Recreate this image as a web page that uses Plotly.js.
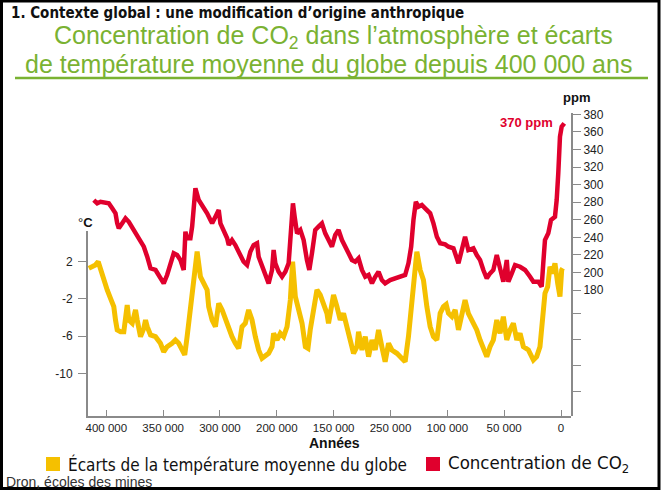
<!DOCTYPE html>
<html>
<head>
<meta charset="utf-8">
<script src="https://cdn.plot.ly/plotly-3.0.1.min.js"></script>
<style>html,body{margin:0;padding:0;background:#fff;}#chart{width:661px;height:490px;}</style>
</head>
<body>
<div id="chart"></div>
<script>
// ---- Data (years before present) ----
const co2Years = [411000,408000,405100,400700,397800,394800,391900,390400,389000,386000,383100,380200,375800,371400,367000,364000,361100,356700,353900,349500,346500,343600,340700,337700,334800,331900,330400,328900,326000,324500,321600,318700,315700,311300,308400,306900,304000,301100,299600,296700,293700,292300,289400,286500,283600,279200,276200,273300,270400,267400,266000,263000,260100,257200,254200,252800,251300,248400,245400,242500,239600,237200,235800,234300,232200,229300,226400,223500,221400,219100,216200,213300,210300,207400,204500,201500,198600,195700,192700,189800,186900,183900,181000,178100,175100,172200,169300,166300,163400,160500,157600,154700,150300,145900,141500,137100,134200,131800,129800,127700,125400,122400,119500,115100,112200,109200,106300,101900,99000,94600,90200,87300,84400,81500,77100,74100,71200,68300,65300,62400,59500,56500,53600,50700,47700,46300,43300,40400,36000,31600,27200,24300,19900,17000,15600,14100,11200,8800,5300,3800,2400,900,-600,-2900];
const co2Ppm = [282.4,278.7,280.5,279.4,278.7,273.0,267.3,255.9,250.2,255.9,261.6,257.7,248.3,238.9,229.3,217.9,204.7,202.8,197.1,187.6,197.1,210.4,221.8,219.8,214.2,202.8,246.4,238.9,238.9,252.1,295.8,282.4,276.8,267.3,259.7,255.9,263.4,271.1,255.9,248.3,238.9,231.2,236.9,231.2,223.6,212.2,208.5,223.6,231.2,233.2,217.9,206.5,195.1,187.6,202.8,225.5,210.4,200.8,195.1,200.8,210.4,248.3,278.7,263.4,244.5,248.3,236.9,214.2,202.8,221.8,248.3,252.1,255.9,244.5,236.9,229.3,242.6,248.3,236.9,229.3,223.6,214.2,212.2,216.1,202.8,195.1,197.1,187.6,195.1,200.8,191.4,187.6,191.4,193.3,195.1,197.1,210.4,229.3,259.7,280.5,274.8,276.8,273.0,267.3,255.9,240.7,233.2,232.0,229.3,227.5,210.4,223.6,240.7,225.5,227.5,219.8,214.2,202.8,193.3,199.0,202.8,219.8,206.5,189.4,214.2,189.4,199.0,208.5,206.5,202.8,195.1,189.4,189.4,183.8,210.4,236.9,244.5,259.7,263.4,282.4,312.8,354.5,365.9,369.8];

const tempYears = [415400,412400,409500,407100,405100,402200,399200,396300,393400,391900,390400,387500,384600,381600,380200,377200,374300,372800,369900,367000,365500,364000,361100,356700,352400,349500,346500,342100,339200,336300,333300,331000,328900,326000,323100,320100,317200,314300,311300,309900,306900,304000,301100,298100,295200,292300,289400,286500,283600,280600,277700,274800,271800,268900,266000,263000,260100,257200,254200,252800,249800,246900,244000,241000,238100,236100,233700,230800,227800,224900,222600,220600,217700,214700,211800,208900,205900,204500,201500,200100,197100,194200,191300,188300,185400,182500,179500,178100,175100,172200,169300,166300,163400,160500,157600,154700,151700,148800,144400,140000,137100,134200,131200,128900,126800,123900,121000,118000,115100,112200,109200,106300,103400,101000,99000,96000,93100,90200,87300,84400,81500,78500,74100,71200,68300,65300,62400,59500,56500,53600,50700,47700,44800,41900,38900,36000,33100,28700,24300,21400,18500,16400,14100,11700,9700,7600,5300,2900,900,-600,-1500];
const tempC = [1.29,1.46,1.65,2.0,1.11,0.03,-1.04,-1.94,-2.84,-4.27,-5.34,-5.53,-5.53,-2.66,-4.27,-4.62,-3.19,-4.27,-6.06,-5.16,-4.27,-4.99,-5.88,-6.06,-6.77,-7.68,-7.14,-6.77,-6.42,-6.77,-7.68,-8.03,-6.06,-3.19,0.03,3.08,0.39,-0.32,-1.04,-2.84,-4.27,-4.99,-2.47,-3.19,-4.27,-4.99,-6.06,-6.77,-7.31,-4.99,-4.62,-3.19,-4.27,-6.06,-7.49,-8.39,-8.03,-7.85,-7.14,-5.70,-6.42,-5.70,-6.06,-4.99,-2.12,2.0,-1.76,-3.19,-4.62,-7.14,-7.31,-5.34,-2.84,-1.04,-1.58,-2.47,-3.55,-4.62,-2.47,-1.58,-2.84,-4.27,-3.55,-4.99,-6.77,-7.85,-7.14,-5.53,-7.49,-6.06,-8.21,-6.42,-7.49,-5.34,-7.14,-8.75,-6.77,-7.49,-7.85,-8.39,-8.75,-6.06,-1.76,1.11,3.08,1.11,0.03,-2.84,-4.99,-6.06,-6.42,-3.55,-2.84,-2.6,-3.55,-3.91,-3.19,-5.34,-3.55,-2.12,-3.55,-4.27,-5.34,-6.42,-7.49,-8.21,-7.14,-6.42,-4.27,-5.70,-3.91,-6.42,-5.34,-4.62,-6.42,-5.70,-7.14,-7.49,-8.57,-8.21,-7.14,-4.27,-1.40,-0.69,1.46,0.75,1.83,-0.32,-1.76,1.11,1.29];

const xTickVals = [400000,350000,300000,250000,200000,150000,100000,50000,0];
const xTickText = ['400 000','350 000','300 000','200 000','150 000','250 000','100 000','50 000','0'];
const tempTickVals = [2,-2,-6,-10];
const tempTickText = ['2','-2','-6','-10'];
const co2TickVals = [64,94,124,153.5,180,200,220,240,260,280,300,320,340,360,380];
const co2TickText = ['','','','','180','200','220','240','260','280','300','320','340','360','380'];

// ---- Layout helpers (pixel -> paper) ----
const L = 88, R = 571, T = 113, B = 416;
const px = x => (x - L) / (R - L);
const py = y => (B - y) / (B - T);

const FONT = 'Liberation Sans, Arial, Helvetica, sans-serif';
const NARROW = 'DejaVu Sans Condensed, Liberation Sans, sans-serif';
const GREEN = '#7AB232';
const RED = '#E0002D';
const YELLOW = '#F5C000';
const AXIS = '#8a8a8a';

const traces = [
  {x: co2Years, y: co2Ppm, xaxis: 'x', yaxis: 'y2', type: 'scatter', mode: 'lines',
   line: {color: RED, width: 4.5}, hoverinfo: 'skip', showlegend: false},
  {x: tempYears, y: tempC, xaxis: 'x', yaxis: 'y', type: 'scatter', mode: 'lines',
   line: {color: YELLOW, width: 5}, hoverinfo: 'skip', showlegend: false}
];

function ann(text, x, y, opts) {
  return Object.assign({text: text, xref: 'paper', yref: 'paper', x: px(x), y: py(y),
    showarrow: false, xanchor: 'center', yanchor: 'middle'}, opts || {});
}

const layout = {
  width: 661, height: 490,
  margin: {l: L, r: 661 - R, t: T, b: 490 - B, pad: 0},
  paper_bgcolor: '#ffffff', plot_bgcolor: 'rgba(0,0,0,0)',
  showlegend: false,
  font: {family: FONT, color: '#222'},
  xaxis: {domain: [0, 1], range: [416100, -8800], anchor: 'y', showline: true, linecolor: AXIS, linewidth: 2,
    ticks: 'inside', ticklen: 6, tickwidth: 1, tickcolor: AXIS, tickmode: 'array',
    tickvals: xTickVals, ticktext: xTickText, tickfont: {family: FONT, size: 11.5, color: '#222'},
    showgrid: false, zeroline: false, fixedrange: true},
  yaxis: {domain: [0, py(231)], range: [-14.59, 5.30], anchor: 'x', showline: true, linecolor: AXIS, linewidth: 2,
    ticks: 'outside', ticklen: 8, tickwidth: 1, tickcolor: AXIS, tickmode: 'array', ticklabelstandoff: 3,
    tickvals: tempTickVals, ticktext: tempTickText, tickfont: {family: FONT, size: 12, color: '#222'},
    showgrid: false, zeroline: false, fixedrange: true},
  yaxis2: {domain: [0, 1], range: [36.6, 381.5], anchor: 'x', side: 'right', showline: true, linecolor: AXIS, linewidth: 2,
    ticks: 'outside', ticklen: 8, tickwidth: 1, tickcolor: AXIS, tickmode: 'array',
    tickvals: co2TickVals, ticktext: co2TickText, tickfont: {family: FONT, size: 12, color: '#222'},
    showgrid: false, zeroline: false, fixedrange: true},
  shapes: [
    {type: 'rect', xref: 'paper', yref: 'paper', x0: px(1.5), x1: px(659), y0: py(1), y1: py(488.5),
     line: {color: '#000', width: 3}},
    {type: 'line', xref: 'paper', yref: 'paper', x0: px(15), x1: px(648), y0: py(78), y1: py(78),
     line: {color: GREEN, width: 2.5}},
    {type: 'rect', xref: 'paper', yref: 'paper', x0: px(46), x1: px(60), y0: py(457), y1: py(471),
     fillcolor: YELLOW, line: {width: 0}},
    {type: 'rect', xref: 'paper', yref: 'paper', x0: px(426), x1: px(440), y0: py(457), y1: py(471),
     fillcolor: RED, line: {width: 0}}
  ],
  annotations: [
    ann('<b>1. Contexte global : une modification d’origine anthropique</b>', 9, 13,
        {xanchor: 'left', font: {family: NARROW, size: 15, color: '#111'}}),
    ann('Concentration de CO<sub>2</sub> dans l’atmosphère et écarts', 333, 37,
        {font: {family: FONT, size: 25, color: GREEN}}),
    ann('de température moyenne du globe depuis 400 000 ans', 328, 64,
        {font: {family: FONT, size: 25, color: GREEN}}),
    ann('°<b>C</b>', 85, 222, {font: {family: FONT, size: 13, color: '#111'}}),
    ann('<b>ppm</b>', 576, 98, {font: {family: FONT, size: 13, color: '#111'}}),
    ann('<b>370 ppm</b>', 555, 123, {xanchor: 'right', font: {family: FONT, size: 13, color: RED}}),
    ann('<b>Années</b>', 334, 443, {font: {family: FONT, size: 14, color: '#111'}}),
    ann('Écarts de la température moyenne du globe', 66, 464,
        {xanchor: 'left', font: {family: NARROW, size: 17, color: '#111'}}),
    ann('Concentration de CO<sub>2</sub>', 446, 464,
        {xanchor: 'left', font: {family: NARROW, size: 18.5, color: '#111'}}),
    ann('Dron, écoles des mines', 4, 482,
        {xanchor: 'left', font: {family: FONT, size: 14, color: '#333'}})
  ]
};

Plotly.newPlot('chart', traces, layout, {staticPlot: true, displayModeBar: false});
</script>
</body>
</html>
